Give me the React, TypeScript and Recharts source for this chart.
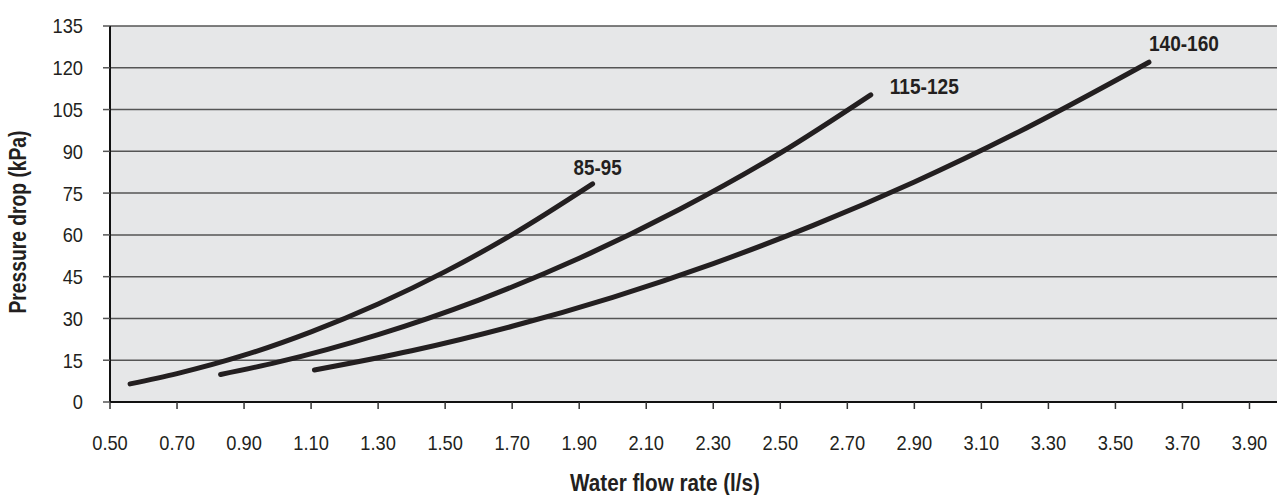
import {
  CartesianGrid,
  LabelList,
  Line,
  LineChart,
  XAxis,
  YAxis,
} from "recharts";

// flow rate (l/s) / pressure drop (kPa)
const flow8595 = [0.56, 0.7, 0.9, 1.1, 1.3, 1.5, 1.7, 1.94];
const drop8595 = [6.5, 10.2, 16.8, 25.2, 35.2, 46.8, 60.1, 78.3];

const flow115125 = [0.83, 1.0, 1.3, 1.6, 1.9, 2.2, 2.5, 2.77];
const drop115125 = [9.9, 14.3, 24.2, 36.6, 51.6, 69.2, 89.4, 110.3];

const flow140160 = [1.11, 1.4, 1.7, 2.0, 2.3, 2.6, 2.9, 3.2, 3.6];
const drop140160 = [11.5, 18.4, 27.2, 37.6, 49.7, 63.5, 79.0, 96.3, 122];

const xTicks = [
  0.5, 0.7, 0.9, 1.1, 1.3, 1.5, 1.7, 1.9, 2.1, 2.3, 2.5, 2.7, 2.9, 3.1, 3.3,
  3.5, 3.7, 3.9,
];
const yTicks = [0, 15, 30, 45, 60, 75, 90, 105, 120, 135];

// no condensed face installed, so the text is squeezed horizontally
const FONT = "'Liberation Sans', Arial, sans-serif";
const INK = "#231f20";
const SQUEEZE = 0.87;

const toRows = (xs: number[], ys: number[]) =>
  xs.map((flow, i) => ({ flow, drop: ys[i] }));

const series = [
  { name: "85-95", data: toRows(flow8595, drop8595), dx: -19, dy: -16, w: 48 },
  { name: "115-125", data: toRows(flow115125, drop115125), dx: 19, dy: -8, w: 69 },
  { name: "140-160", data: toRows(flow140160, drop140160), dx: 0, dy: -19, w: 70 },
];

function endLabel(name: string, last: number, dx: number, dy: number, w: number) {
  return (props: any) => {
    if (props.index !== last) return null;
    return (
      <text
        x={Number(props.x) + dx}
        y={Number(props.y) + dy}
        dominantBaseline="central"
        fontFamily={FONT}
        fontWeight="bold"
        fontSize={22}
        fill={INK}
        textLength={w}
        lengthAdjust="spacingAndGlyphs"
      >
        {name}
      </text>
    );
  };
}

function XTick(props: any) {
  const { x, y, payload } = props;
  return (
    <g transform={`translate(${x},${y})`}>
      <text
        transform={`scale(${SQUEEZE},1)`}
        textAnchor="middle"
        dominantBaseline="central"
        fontFamily={FONT}
        fontSize={21}
        fill={INK}
      >
        {Number(payload.value).toFixed(2)}
      </text>
    </g>
  );
}

function YTick(props: any) {
  const { x, y, payload } = props;
  return (
    <g transform={`translate(${x},${y})`}>
      <text
        transform={`scale(${SQUEEZE},1)`}
        textAnchor="end"
        dominantBaseline="central"
        fontFamily={FONT}
        fontSize={21}
        fill={INK}
      >
        {payload.value}
      </text>
    </g>
  );
}

export default function App() {
  return (
    <div
      style={{
        position: "absolute",
        left: 0,
        top: 0,
        width: 1277,
        height: 495,
        overflow: "hidden",
        background: "#fff",
      }}
    >
      <svg
        width={1277}
        height={495}
        style={{ position: "absolute", left: 0, top: 0, pointerEvents: "none", zIndex: 1 }}
      >
        <text
          x={665}
          y={482}
          textAnchor="middle"
          dominantBaseline="central"
          fontFamily={FONT}
          fontWeight="bold"
          fontSize={24}
          fill={INK}
          textLength={190}
          lengthAdjust="spacingAndGlyphs"
        >
          Water flow rate (l/s)
        </text>
        <text
          transform="translate(17,222) rotate(-90)"
          textAnchor="middle"
          dominantBaseline="central"
          fontFamily={FONT}
          fontWeight="bold"
          fontSize={24}
          fill={INK}
          textLength={183}
          lengthAdjust="spacingAndGlyphs"
        >
          Pressure drop (kPa)
        </text>
      </svg>
      <LineChart
        width={1283}
        height={495}
        margin={{ top: 26, right: 0, bottom: 0, left: 0 }}
      >
        <CartesianGrid
          vertical={false}
          stroke="#555"
          strokeWidth={1.5}
          fill="#e6e7e8"
          fillOpacity={1}
        />
        <XAxis
          type="number"
          dataKey="flow"
          domain={[0.5, 4.0]}
          ticks={xTicks}
          allowDataOverflow
          height={93}
          tickSize={7}
          tickMargin={34}
          tick={<XTick />}
          tickLine={{ stroke: "#333", strokeWidth: 1.5 }}
          axisLine={{ stroke: "#111", strokeWidth: 2 }}
        />
        <YAxis
          type="number"
          domain={[0, 135]}
          ticks={yTicks}
          width={110}
          tickSize={7}
          tickMargin={20}
          tick={<YTick />}
          tickLine={{ stroke: "#555", strokeWidth: 1.5 }}
          axisLine={{ stroke: "#111", strokeWidth: 2 }}
        />
        {series.map((s) => (
          <Line
            key={s.name}
            data={s.data}
            dataKey="drop"
            type="monotone"
            stroke={INK}
            strokeWidth={5}
            strokeLinecap="round"
            dot={false}
            activeDot={false}
            isAnimationActive={false}
          >
            <LabelList
              dataKey="drop"
              content={endLabel(s.name, s.data.length - 1, s.dx, s.dy, s.w)}
            />
          </Line>
        ))}
      </LineChart>
    </div>
  );
}
